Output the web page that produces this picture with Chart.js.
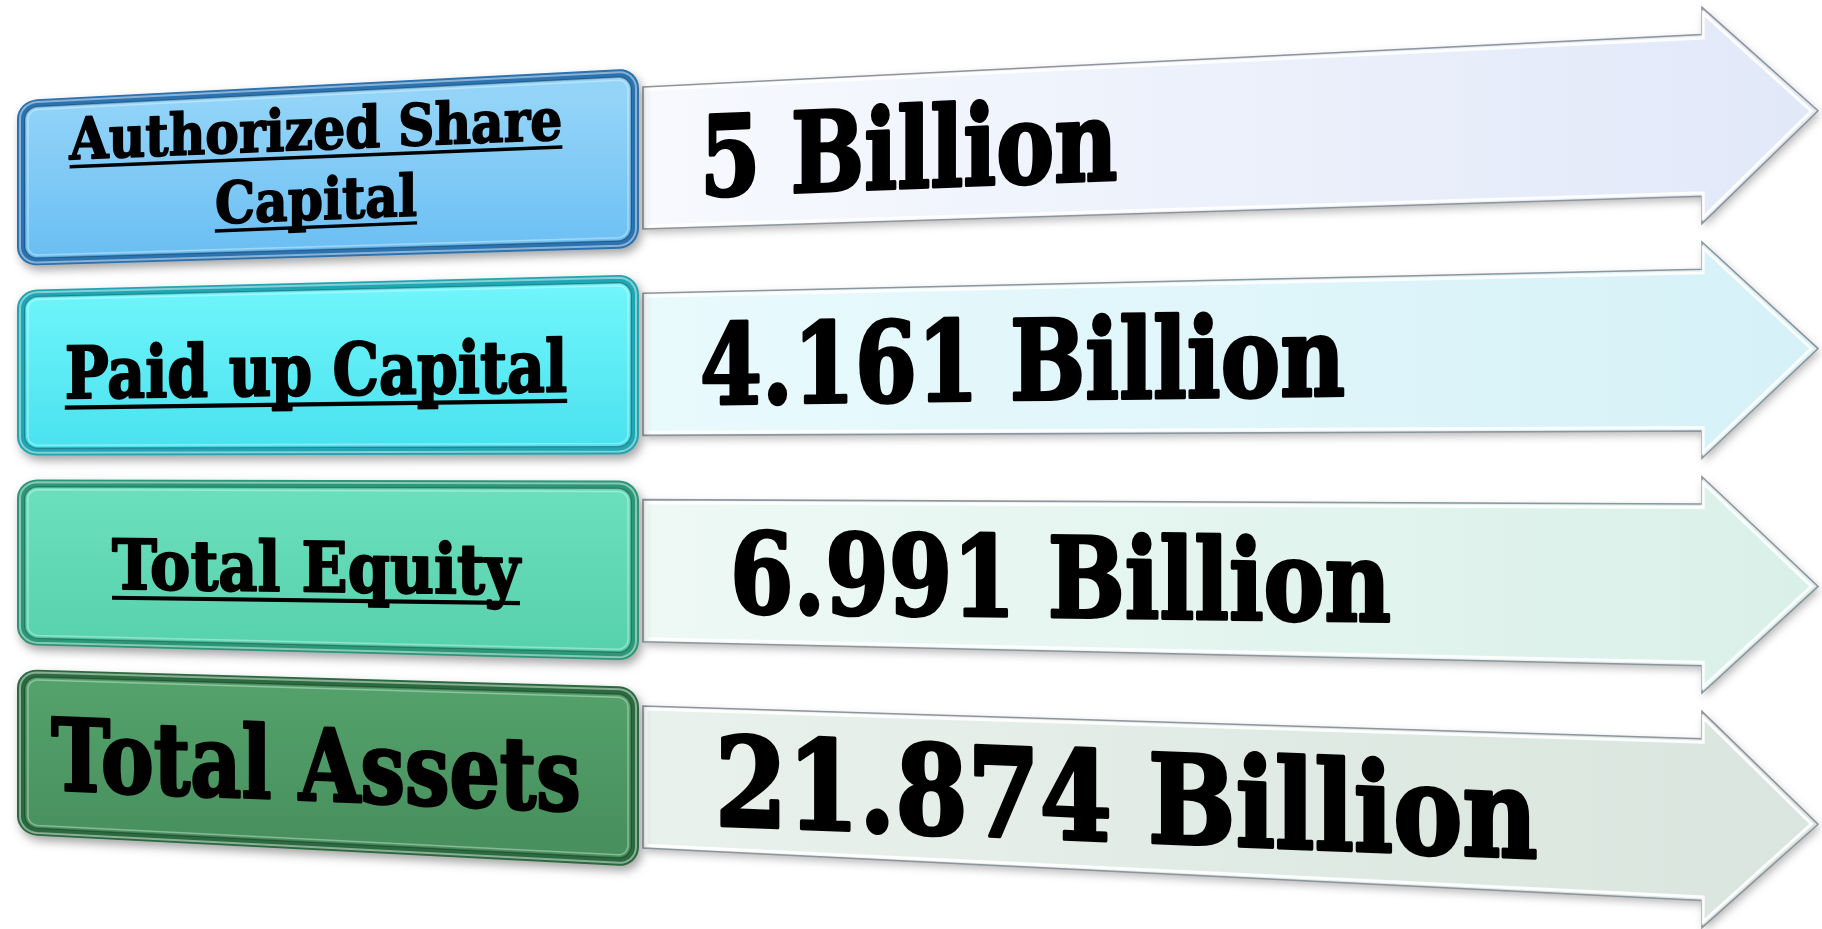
<!DOCTYPE html>
<html>
<head>
<meta charset="utf-8">
<script src="https://cdn.jsdelivr.net/npm/chart.js@4.4.1/dist/chart.umd.min.js"></script>
<style>
html, body { margin: 0; padding: 0; background: #fff; }
#wrap { width: 1822px; height: 929px; }
</style>
</head>
<body>
<div id="wrap"><canvas id="finChart" width="1822" height="929"></canvas></div>
<script>
// rows, top to bottom
var categories = [["Authorized Share", "Capital"], "Paid up Capital", "Total Equity", "Total Assets"];
var values = [5, 4.161, 6.991, 21.874];
var unit = "Billion";

// box colours: rim, fill top, fill bottom
var boxRim = ["#2a72b0", "#1fa6b3", "#2a9777", "#2b6a3f"];
var boxTop = ["#93d4f8", "#6ff5fb", "#6ce0bd", "#55a36d"];
var boxBottom = ["#68bdf3", "#48e1ee", "#58d2ac", "#48915e"];
// arrow fill: left, right
var arrowLeft = ["#f7f9fe", "#e9fafd", "#eef9f5", "#e9f1ec"];
var arrowRight = ["#e1e8f8", "#d5f1f7", "#d9f0e8", "#d9e5de"];

// draws the label box + value arrow for every category, placed by the y scale
var rowArrows = {
  id: "rowArrows",
  afterDatasetsDraw: function(chart, args, opts) {
    var ctx = chart.ctx;
    var area = chart.chartArea;
    var yScale = chart.scales.y;
    var yMid = (area.top + area.bottom) / 2;
    var boxL = area.left, boxR = area.left + opts.boxWidth;
    var x0 = boxR;               // x where heights are nominal
    var D = opts.depth;          // distance to the vanishing point
    var arrowL = boxR + opts.gap;
    var tipX = area.right;
    var headX = tipX - opts.headLen;

    function s(x) { return (x - x0 + D) / D; }
    function mp(x, yc, dy) { return [x, yMid + (yc - yMid + dy) * s(x)]; }
    function path(pts, yc) {
      ctx.beginPath();
      pts.forEach(function(p, k) {
        var q = mp(p[0], yc, p[1]);
        if (k === 0) ctx.moveTo(q[0], q[1]); else ctx.lineTo(q[0], q[1]);
      });
      ctx.closePath();
    }
    function roundPts(xl, xr, h, r) {
      var pts = [];
      var cs = [[xr - r, -h + r, -Math.PI / 2], [xr - r, h - r, 0], [xl + r, h - r, Math.PI / 2], [xl + r, -h + r, Math.PI]];
      cs.forEach(function(c) {
        for (var k = 0; k <= 8; k++) {
          var a = c[2] + k * Math.PI / 16;
          pts.push([c[0] + r * Math.cos(a), c[1] + r * Math.sin(a)]);
        }
      });
      return pts;
    }
    function arrowPts(inset) {
      var bh = opts.bodyHalf - inset, hh = opts.headHalf - inset * 1.8;
      return [[arrowL + inset, -bh], [headX + inset * 0.4, -bh], [headX + inset * 0.4, -hh],
              [tipX - inset * 2.2, 0], [headX + inset * 0.4, hh], [headX + inset * 0.4, bh], [arrowL + inset, bh]];
    }
    function text(str, x, yc, dy, px, align, underline, hs) {
      var sc = s(x);
      var slope = (yc - yMid) / D;
      var Y = yMid + (yc - yMid + dy) * sc;
      ctx.save();
      ctx.setTransform(hs, slope * hs, 0, sc, x, Y);
      ctx.font = "bold " + px + "px 'DejaVu Serif'";
      ctx.textAlign = align;
      ctx.textBaseline = "alphabetic";
      ctx.fillStyle = "#000";
      ctx.strokeStyle = "#000";
      ctx.lineJoin = "round";
      ctx.lineWidth = px * opts.weight;
      ctx.fillText(str, 0, 0);
      ctx.strokeText(str, 0, 0);
      if (underline) {
        var w = ctx.measureText(str).width;
        var x1 = align === "center" ? -w / 2 : 0;
        ctx.fillRect(x1, px * 0.1, w, Math.max(3, px * 0.06));
      }
      ctx.restore();
    }

    ctx.save();
    chart.data.labels.forEach(function(lab, i) {
      var yc = yScale.getPixelForValue(i);
      var bh = opts.boxHalf;

      // arrow
      ctx.save();
      ctx.shadowColor = "rgba(0,0,0,0.28)";
      ctx.shadowBlur = 8; ctx.shadowOffsetX = 2; ctx.shadowOffsetY = 4;
      path(arrowPts(0), yc);
      var g = ctx.createLinearGradient(arrowL, 0, tipX, 0);
      g.addColorStop(0, arrowLeft[i]); g.addColorStop(1, arrowRight[i]);
      ctx.fillStyle = g;
      ctx.fill();
      ctx.restore();
      path(arrowPts(0), yc);
      ctx.strokeStyle = "#8e959c"; ctx.lineWidth = 1.6; ctx.stroke();
      path(arrowPts(3), yc);
      ctx.strokeStyle = "rgba(255,255,255,0.9)"; ctx.lineWidth = 3; ctx.stroke();

      // label box
      ctx.save();
      ctx.shadowColor = "rgba(0,0,0,0.35)";
      ctx.shadowBlur = 10; ctx.shadowOffsetX = 3; ctx.shadowOffsetY = 5;
      path(roundPts(boxL, boxR, bh, 20), yc);
      ctx.fillStyle = boxRim[i];
      ctx.fill();
      ctx.restore();
      path(roundPts(boxL + 3, boxR - 3, bh - 3, 17), yc);
      ctx.strokeStyle = "rgba(255,255,255,0.45)"; ctx.lineWidth = 2; ctx.stroke();
      path(roundPts(boxL + 8, boxR - 8, bh - 8, 13), yc);
      var top = mp(boxL, yc, -bh)[1], bot = mp(boxL, yc, bh)[1];
      var gb = ctx.createLinearGradient(0, top, 0, bot);
      gb.addColorStop(0, boxTop[i]); gb.addColorStop(1, boxBottom[i]);
      ctx.fillStyle = gb; ctx.fill();
      ctx.strokeStyle = "rgba(0,0,0,0.25)"; ctx.lineWidth = 1.5; ctx.stroke();
      path(roundPts(boxL + 11, boxR - 11, bh - 11, 10), yc);
      ctx.strokeStyle = "rgba(255,255,255,0.35)"; ctx.lineWidth = 1.5; ctx.stroke();

      // category text
      var lines = Array.isArray(lab) ? lab : [lab];
      var px = opts.labelFont[i];
      var lh = px * 1.22;
      var cap = px * 0.73;
      var lx = (boxL + boxR) / 2 - 12;
      lines.forEach(function(line, k) {
        var dy = cap / 2 + (k - (lines.length - 1) / 2) * lh - (lines.length - 1) * 8;
        text(line, lx, yc, dy, px, "center", opts.underline[i], opts.labelScale[i]);
      });

      // value text
      var vp = opts.valueFont[i];
      text(values[i] + " " + unit, arrowL + opts.valuePad[i], yc, vp * 0.365, vp, "left", false, opts.valueScale[i]);
    });
    ctx.restore();
  }
};

new Chart(document.getElementById("finChart"), {
  type: "bar",
  data: {
    labels: categories,
    datasets: [{
      label: unit,
      data: values,
      backgroundColor: "rgba(0,0,0,0)",
      borderWidth: 0
    }]
  },
  options: {
    indexAxis: "y",
    responsive: false,
    animation: false,
    layout: { padding: { left: 17, right: 4, top: 55, bottom: 49 } },
    scales: {
      x: { display: false, min: 0, max: 25 },
      y: { display: false }
    },
    plugins: {
      legend: { display: false },
      tooltip: { enabled: false },
      rowArrows: {
        boxWidth: 622, gap: 4, headLen: 116, depth: 7700,
        boxHalf: 90, bodyHalf: 71, headHalf: 95,
        weight: 0.03,
        labelFont: [60, 75, 72, 104],
        labelScale: [0.84, 0.78, 0.84, 0.76],
        underline: [true, true, true, false],
        valueFont: [110, 110, 110, 122],
        valueScale: [0.79, 0.81, 0.83, 0.85],
        valuePad: [57, 57, 87, 72]
      }
    }
  },
  plugins: [rowArrows]
});
</script>
</body>
</html>
